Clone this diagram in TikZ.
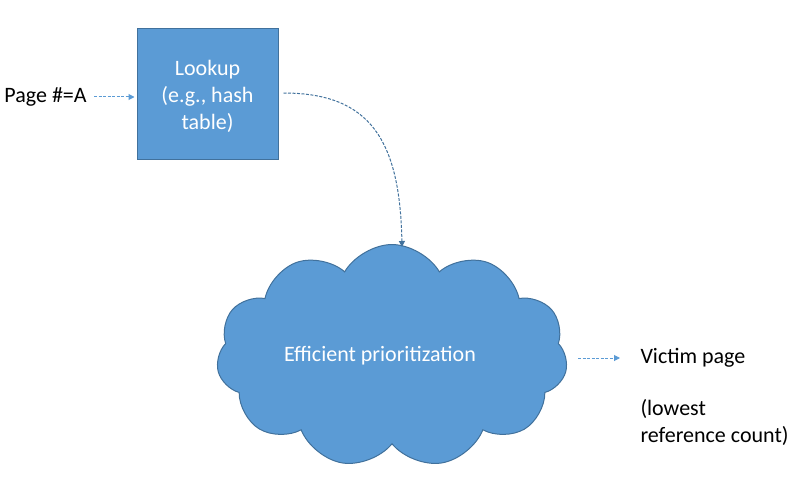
\documentclass[tikz,border=0pt]{standalone}
\usepackage{fontspec}
\setmainfont{Carlito}
\usetikzlibrary{arrows.meta,shapes.symbols}
\definecolor{officeblue}{HTML}{5B9BD5}
\definecolor{officeedge}{HTML}{41719C}

\begin{document}
\begin{tikzpicture}[x=1pt, y=-1pt, line width=1pt,
  every node/.style={font=\fontsize{22}{27}\selectfont},
  blockbox/.style={draw=officeedge, fill=officeblue, text=white, minimum width=141pt, minimum height=131pt, align=center},
  puffcloud/.style={cloud, cloud puffs=11, cloud puff arc=120, aspect=1.6, draw=officeedge, fill=officeblue, text=white, minimum width=351pt, minimum height=223pt},
  dashlink/.style={dash pattern=on 3pt off 1.5pt, -{Triangle[length=6pt,width=6pt]}}]
  \useasboundingbox (0,0) rectangle (795,489);
  % Input page number and lookup table
  \node[anchor=west, inner sep=0pt] (page) at (4,97) {Page \#=A};
  \node[blockbox, text depth=0pt] (lookup) at (207.5,94.5) {Lookup\\(e.g., hash\\table)};
  \draw[dashlink, officeblue, shorten <=7pt, shorten >=2pt] (page.east) -- (lookup.west |- page.east);
  % Priority structure (cloud)
  \node[puffcloud] (prio) at (392,356) {\hspace*{-24pt}Efficient prioritization};
  \coordinate (drop) at (402,247);
  \draw[dashlink, officeedge, shorten <=5pt] (lookup.east |- 0,93) .. controls (370,93) and (400,140) .. (drop);
  % Result
  \node[anchor=west, inner sep=0pt] (victim) at (640,358) {Victim page};
  \node[anchor=north west, inner sep=0pt, align=left] (note) at (640,399) {(lowest\\reference count)};
  \draw[dashlink, officeblue, shorten <=12pt, shorten >=20pt] (prio.east |- victim.west) -- (victim.west);
\end{tikzpicture}
\end{document}
